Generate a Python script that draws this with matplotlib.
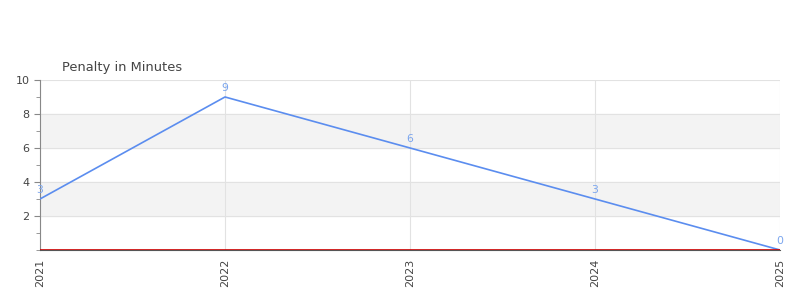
import matplotlib
matplotlib.use("Agg")
import matplotlib.pyplot as plt
from matplotlib.ticker import MultipleLocator

years = ["2021", "2022", "2023", "2024", "2025"]
penalty = [3, 9, 6, 3, 0]
title = "Penalty in Minutes"

fig = plt.figure(figsize=(8, 3), dpi=100)
ax = fig.add_axes([0.05, 0.1667, 0.925, 0.5667])
x = list(range(len(years)))

ax.set_xlim(0, len(years) - 1)
ax.set_ylim(0, 10)
for lo in (2, 6):
    ax.axhspan(lo, lo + 2, color="#f3f3f3", zorder=0)
ax.set_yticks([2, 4, 6, 8, 10])
ax.yaxis.set_minor_locator(MultipleLocator(1))
ax.set_xticks(x)
ax.set_xticklabels(years, rotation=90)
ax.grid(True, color="#e2e2e2", linewidth=0.8, zorder=1)
ax.set_axisbelow(True)

ax.plot(x, penalty, color="#5b8def", linewidth=1.2, zorder=3)
ax.axhline(0, color="#cc0000", linewidth=1.2, zorder=4)
for xi, v in zip(x, penalty):
    ax.annotate(str(v), (xi, v), xytext=(0, 3), textcoords="offset points",
                ha="center", va="bottom", fontsize=7.8, color="#7aa5ee", zorder=5)

for s in ("top", "right"):
    ax.spines[s].set_visible(False)
ax.spines["left"].set_color("#888888")
ax.spines["bottom"].set_color("#555555")
ax.tick_params(axis="both", colors="#888888", labelcolor="#444444", labelsize=8, length=4)
ax.tick_params(axis="y", which="minor", colors="#888888", length=3)
ax.tick_params(axis="x", length=0, pad=6)

fig.text(62 / 800, 1 - 67 / 300, title, fontsize=9.4, color="#444444", ha="left", va="center")
fig.savefig("out.png", dpi=100)
